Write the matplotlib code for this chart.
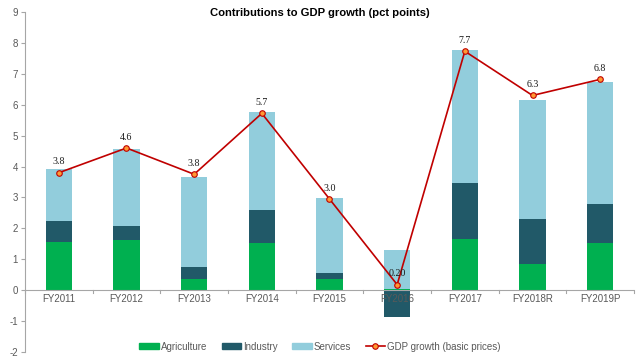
import matplotlib
matplotlib.use("Agg")
import matplotlib.pyplot as plt
import numpy as np
from matplotlib.lines import Line2D
from matplotlib.patches import Patch

categories = ["FY2011", "FY2012", "FY2013", "FY2014", "FY2015", "FY2016", "FY2017", "FY2018R", "FY2019P"]
agriculture = [1.56, 1.61, 0.37, 1.53, 0.37, 0.05, 1.66, 0.85, 1.54]
industry = [0.67, 0.46, 0.38, 1.07, 0.20, -0.88, 1.81, 1.45, 1.25]
services = [1.70, 2.50, 2.91, 3.18, 2.40, 1.24, 4.30, 3.85, 3.94]
gdp = [3.80, 4.60, 3.75, 5.72, 2.95, 0.18, 7.73, 6.30, 6.82]
gdp_labels = ["3.8", "4.6", "3.8", "5.7", "3.0", "0.20", "7.7", "6.3", "6.8"]
yticks = [-2, -1, 0, 1, 2, 3, 4, 5, 6, 7, 8, 9]

c_agri = "#00B050"
c_ind = "#215968"
c_serv = "#92CDDC"
c_line = "#C00000"
c_mark = "#FF9933"
gray = "#A6A6A6"
txt = "#595959"

plt.rcParams['font.family'] = ['Liberation Sans', 'DejaVu Sans']

fig = plt.figure(figsize=(6.4, 3.6), dpi=100)
ax = fig.add_axes([25/640, 1-352/360, (634-25)/640, (352-12)/360])

x = np.arange(len(categories))
agri = np.array(agriculture)
ind = np.array(industry)
serv = np.array(services)
w = 0.39

ax.bar(x, agri, w, color=c_agri, zorder=2)
ind_bottom = np.where(ind >= 0, agri, 0)
ax.bar(x, ind, w, bottom=ind_bottom, color=c_ind, zorder=2)
serv_bottom = np.where(ind >= 0, agri + ind, agri)
ax.bar(x, serv, w, bottom=serv_bottom, color=c_serv, zorder=2)

ax.plot(x, gdp, color=c_line, lw=1.2, marker='o', ms=4, mfc=c_mark, mec=c_line, mew=0.8, zorder=4)
for xi, g, lab in zip(x, gdp, gdp_labels):
    ax.annotate(lab, (xi, g), xytext=(0, 4.5), textcoords='offset points', ha='center', va='bottom',
                fontsize=7.2, family=['Liberation Serif'], color='#1a1a1a', zorder=5)

ax.set_xlim(-0.5, len(categories) - 0.5)
ax.set_ylim(-2, 9)
ax.set_yticks(yticks)
ax.set_yticklabels([str(t) for t in yticks])
ax.tick_params(axis='y', colors=gray, labelcolor=txt, labelsize=7, length=3, width=0.8, pad=2)

ax.axhline(0, color=gray, lw=0.8, zorder=3)
for b in np.arange(-0.5, len(categories), 1.0):
    ax.plot([b, b], [0, -0.08], color=gray, lw=0.8, zorder=3, clip_on=False)
ax.set_xticks([])
for xi, c in zip(x, categories):
    ax.text(xi, -0.13, c, ha='center', va='top', fontsize=7, color=txt, zorder=6)

for s in ['top', 'right', 'bottom']:
    ax.spines[s].set_visible(False)
ax.spines['left'].set_color(gray)
ax.spines['left'].set_linewidth(0.8)

fig.text(0.5, 1-13.5/360, "Contributions to GDP growth (pct points)", ha='center', va='center',
         fontsize=8.1, fontweight='bold', color='#000000')

handles = [Patch(color=c_agri), Patch(color=c_ind), Patch(color=c_serv),
           Line2D([], [], color=c_line, lw=1.2, marker='o', ms=4, mfc=c_mark, mec=c_line, mew=0.8)]
labels = ["Agriculture", "Industry", "Services", "GDP growth (basic prices)"]
leg = fig.legend(handles, labels, loc='center', bbox_to_anchor=(0.5, 1-346.5/360), ncol=4, frameon=False,
                 fontsize=7, handlelength=2.0, handleheight=0.5, columnspacing=1.5, handletextpad=0.2)
for t in leg.get_texts():
    t.set_color(txt)

fig.savefig("out.png", dpi=100)
